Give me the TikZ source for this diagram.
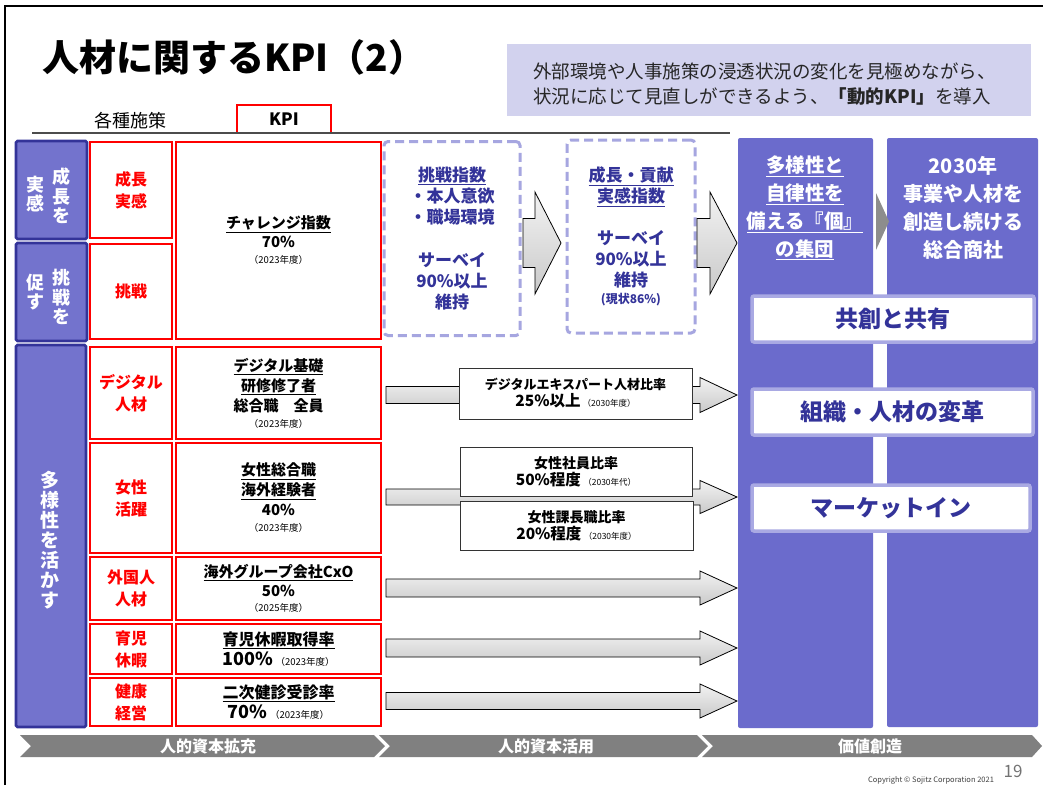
\documentclass[tikz,border=0pt]{standalone}
\usepackage{fontspec}
\setmainfont{Noto Sans CJK JP}
\newcommand\fs[2]{\fontsize{#1}{#2}\selectfont}
\definecolor{navy}{HTML}{333399}
\definecolor{lpurple}{HTML}{7373CD}
\definecolor{colpurple}{HTML}{6B6BCC}
\definecolor{lav}{HTML}{D2D2EE}
\definecolor{dashc}{HTML}{A6A6E0}
\definecolor{barborder}{HTML}{A9A9E3}
\definecolor{bandgray}{HTML}{808080}
\definecolor{txtgray}{HTML}{262626}
\tikzset{
  wh/.style n args={2}{minimum width=#1pt,minimum height=#2pt},
  redbox/.style={draw=red,line width=1.6pt,fill=white,inner sep=0pt,outer sep=0pt,align=center},
  leftbox/.style={fill=lpurple,draw=navy,line width=2.6pt,rounded corners=1.5pt,inner sep=0pt},
  wtext/.style={text=white,font=\fs{18}{19.5}\bfseries,align=center,inner sep=0pt},
  redlabel/.style={text=red,font=\fs{16}{22}\bfseries},
  kpitext/.style={font=\fs{15}{20}\bfseries},
  dashbox/.style={draw=dashc,line width=3pt,dash pattern=on 9pt off 5pt,rounded corners=4pt,inner sep=0pt,align=center,text=navy,font=\fs{17}{21}\bfseries},
  blkarrow/.style={draw=black,line width=0.8pt,top color=gray!10,bottom color=gray!42},
  midbox/.style={draw=black!80,line width=0.9pt,fill=white,inner sep=0pt,align=center},
  bigcol/.style={fill=colpurple,rounded corners=2pt,inner sep=0pt},
  coltext/.style={text=white,font=\fs{19.5}{28}\bfseries,align=center},
  wbar/.style={draw=barborder,line width=3.5pt,fill=white,rounded corners=2pt,inner sep=0pt,text=navy,font=\fs{23}{26}\bfseries},
  band/.style={fill=bandgray},
  bandtext/.style={text=white,font=\fs{16}{18}\bfseries},
}
\newcommand\yr[1]{{\fs{9.5}{12}\mdseries（#1）}}
\newcommand\blkarrow[6]{%
  \draw[blkarrow] (#1,#4-#5) -- (#2,#4-#5) -- (#2,#4-#6) -- (#3,#4) -- (#2,#4+#6) -- (#2,#4+#5) -- (#1,#4+#5) -- cycle;}
\begin{document}
\begin{tikzpicture}[x=1pt,y=-1pt]
\useasboundingbox (0,0) rectangle (1043,785);
\fill[white] (0,0) rectangle (1043,785);
% frame
\draw[line width=2.5pt] (5,785) -- (5,6) -- (1043,6);
% title
\node[anchor=west,inner sep=0pt,font=\fs{37}{42}\bfseries] (title) at (42,57) {人材に関するKPI（2）};
% top right note
\node[fill=lav,wh={524}{72},inner sep=0pt] (note) at (769,80) {};
\node[anchor=west,align=left,inner sep=0pt,text=txtgray,font=\fs{18.5}{25}] (notetext) at (533,84.5)
  {外部環境や人事施策の浸透状況の変化を見極めながら、\\状況に応じて見直しができるよう、{\bfseries「動的KPI」}を導入};
% header
\node[font=\fs{18}{20},inner sep=0pt] (kakushu) at (130,121) {各種施策};
\node[draw=red,line width=1.4pt,wh={94}{28},inner sep=0pt,font=\fs{17}{20}\bfseries] (kpihead) at (284,119) {KPI};
\draw[black!70,line width=1.3pt] (32,133) -- (730,133);
% left purple boxes
\node[leftbox,wh={71}{98}] (L1) at (51.5,190) {};
\node[leftbox,wh={71}{98}] (L2) at (51.5,292) {};
\node[leftbox,wh={70}{382}] (L3) at (51,536) {};
\node[wtext] (L1a) at (61,196) {成\\長\\を};
\node[wtext] (L1b) at (36,194) {実\\感};
\node[wtext] (L2a) at (61,297) {挑\\戦\\を};
\node[wtext] (L2b) at (36,292) {促\\す};
\node[wtext,font=\fs{19}{20}\bfseries] (L3a) at (50,540) {多\\様\\性\\を\\活\\か\\す};
% red label boxes
\node[redbox,redlabel,wh={82}{96}] (R1) at (131,190) {成長\\実感};
\node[redbox,redlabel,wh={82}{95}] (R2) at (131,291.5) {挑戦};
\node[redbox,redlabel,wh={82}{92}] (R3) at (131,393) {デジタル\\人材};
\node[redbox,redlabel,wh={82}{110}] (R4) at (131,498) {女性\\活躍};
\node[redbox,redlabel,wh={82}{63}] (R5) at (131,588.5) {外国人\\人材};
\node[redbox,redlabel,wh={82}{50}] (R6) at (131,649) {育児\\休暇};
\node[redbox,redlabel,wh={82}{48}] (R7) at (131,702) {健康\\経営};
% KPI boxes
\node[redbox,kpitext,wh={205}{197}] (K1) at (278.5,240.5) {\underline{チャレンジ指数}\\[-1pt]70\%\\[-4pt]\yr{2023年度}};
\node[redbox,kpitext,wh={205}{92}] (K2) at (278.5,393) {\underline{デジタル基礎}\\\underline{研修修了者}\\総合職　全員\\[-4pt]\yr{2023年度}};
\node[redbox,kpitext,wh={205}{110}] (K3) at (278.5,498) {\underline{女性総合職}\\\underline{海外経験者}\\40\%\\[-4pt]\yr{2023年度}};
\node[redbox,kpitext,wh={205}{63}] (K4) at (278.5,588.5) {\underline{海外グループ会社CxO}\\[-1pt]50\%\\[-5pt]\yr{2025年度}};
\node[redbox,kpitext,font=\fs{16}{20}\bfseries,wh={205}{50}] (K5) at (278.5,649) {\underline{育児休暇取得率}\\{\fs{18}{20}100\%}\,\yr{2023年度}};
\node[redbox,kpitext,font=\fs{16}{20}\bfseries,wh={205}{48}] (K6) at (278.5,702) {\underline{二次健診受診率}\\{\fs{18}{20}70\%}\,\yr{2023年度}};
% dashed boxes
\node[dashbox,wh={136}{194}] (DA) at (452,238.5) {\underline{挑戦指数}\\・本人意欲\\・職場環境\\[22pt]サーベイ\\90\%以上\\維持};
\node[dashbox,wh={128}{193}] (DB) at (631,236.5) {\underline{成長・貢献}\\\underline{実感指数}\\[21pt]サーベイ\\90\%以上\\維持\\[-4pt]{\fs{12}{16}(現状86\%)}};
\blkarrow{523}{535}{561}{243}{24.5}{51}
\blkarrow{697}{710}{737}{243}{24.5}{51}
% big columns
\node[bigcol,wh={135}{590}] (C1) at (805.5,433) {};
\node[bigcol,wh={151}{589}] (C2) at (962.5,432.5) {};
\fill[bandgray!90] (876,193) -- (889,221.5) -- (876,250) -- cycle;
\node[coltext] (C1t) at (805,208) {\underline{多様性と}\\\underline{自律性を}\\\underline{備える『個』}\\\underline{の集団}};
\node[coltext,font=\fs{20}{28}\bfseries] (C2t) at (963,208) {2030年\\事業や人材を\\創造し続ける\\総合商社};
\node[wbar,wh={282}{46}] (W1) at (893,319) {共創と共有};
\node[wbar,wh={281}{46}] (W2) at (892.5,412) {組織・人材の変革};
\node[wbar,wh={278}{46}] (W3) at (891,508) {マーケットイン};
% horizontal arrows
\blkarrow{386}{700}{737}{395}{8.5}{17.5}
\blkarrow{386}{700}{737}{497}{8}{16.5}
\blkarrow{386}{700}{737}{588}{9}{17}
\blkarrow{386}{700}{737}{648}{9}{17}
\blkarrow{386}{700}{737}{701}{8.5}{17}
% middle boxes
\node[midbox,wh={233}{51},font=\fs{13}{17}\bfseries] (M1) at (575.5,393.5) {デジタルエキスパート人材比率\\{\fs{15.5}{17}25\%以上}\,{\fs{8.5}{10}\mdseries（2030年度）}};
\node[midbox,wh={232}{49},font=\fs{14}{17}\bfseries] (M2) at (576,471.5) {女性社員比率\\{\fs{15.5}{17}50\%程度}\,{\fs{8.5}{10}\mdseries（2030年代）}};
\node[midbox,wh={233}{49},font=\fs{14}{17}\bfseries] (M3) at (576.5,525.5) {女性課長職比率\\{\fs{15.5}{17}20\%程度}\,{\fs{8.5}{10}\mdseries（2030年度）}};
% bottom band
\fill[band] (20,735) -- (374,735) -- (385,746) -- (374,757) -- (20,757) -- (31,746) -- cycle;
\fill[band] (379,735) -- (697,735) -- (708,746) -- (697,757) -- (379,757) -- (390,746) -- cycle;
\fill[band] (702,735) -- (1032,735) -- (1042,746) -- (1032,757) -- (702,757) -- (713,746) -- cycle;
\node[bandtext] (B1) at (208,746) {人的資本拡充};
\node[bandtext] (B2) at (546,746) {人的資本活用};
\node[bandtext] (B3) at (870,746) {価値創造};
% footer
\node[font=\fs{7.5}{9},text=black!75,inner sep=0pt] (copy) at (931,780) {Copyright © Sojitz Corporation 2021};
\node[font=\fs{17}{19},text=black!55,inner sep=0pt] (page) at (1013,771) {19};
\end{tikzpicture}
\end{document}
